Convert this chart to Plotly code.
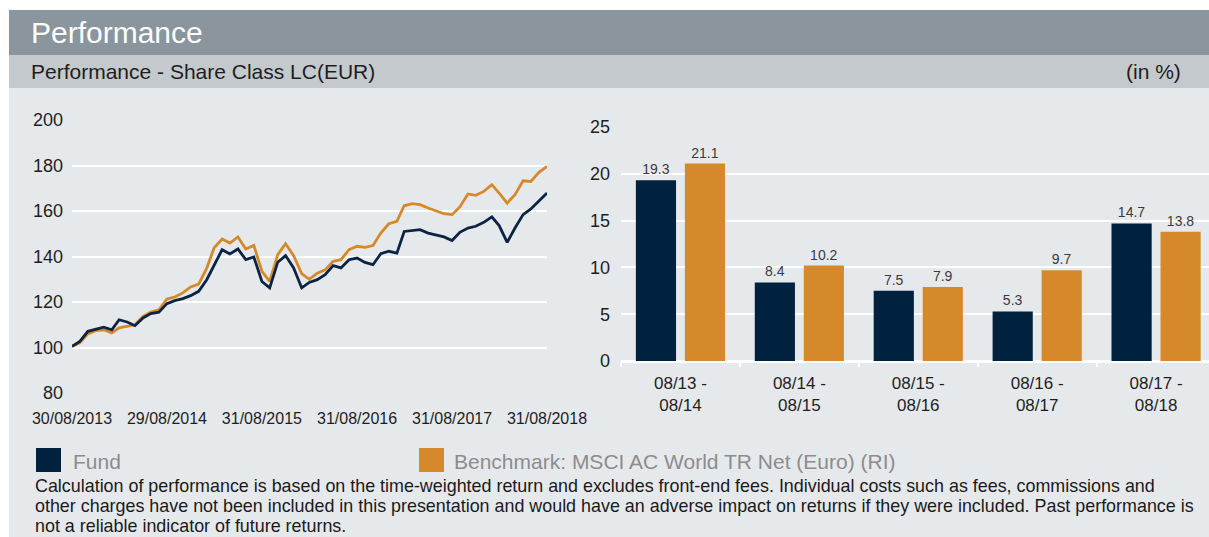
import pandas as pd
import plotly.graph_objects as go

W, H = 1209, 537

# ---------------- data ----------------
dates = pd.date_range("2013-08-31", periods=61, freq="ME")
fund_idx = [100.5, 102.7, 107.1, 108.1, 108.9, 107.8, 112.2, 111.2, 109.6, 113.0,
            114.9, 115.5, 119.3, 120.6, 121.5, 122.8, 124.7, 129.8, 136.4, 143.0,
            141.1, 143.3, 138.6, 139.8, 129.0, 126.2, 137.5, 140.4, 135.0, 126.2,
            128.6, 129.8, 132.0, 136.0, 135.0, 138.6, 139.3, 137.4, 136.4, 141.2,
            142.3, 141.5, 151.0, 151.3, 151.8, 150.3, 149.6, 148.6, 147.0, 150.6,
            152.5, 153.3, 155.0, 157.4, 153.6, 146.2, 152.5, 158.4, 160.9, 164.5,
            167.9]
bench_idx = [100.5, 102.0, 106.0, 107.4, 107.8, 106.4, 108.6, 109.3, 110.0, 113.7,
             115.6, 116.6, 121.3, 122.2, 124.0, 126.6, 127.9, 134.9, 143.7, 147.7,
             145.9, 148.6, 143.3, 144.9, 133.5, 129.1, 140.8, 145.6, 140.4, 132.5,
             130.0, 132.7, 134.1, 137.9, 138.6, 143.0, 144.5, 144.0, 144.8, 150.3,
             154.4, 155.5, 162.3, 163.2, 162.8, 161.3, 159.9, 158.8, 158.4, 161.8,
             167.5, 166.9, 168.6, 171.6, 167.9, 163.5, 167.2, 173.3, 173.0, 177.0,
             179.6]
line_tick_dates = ["2013-08-31", "2014-08-31", "2015-08-31", "2016-08-31", "2017-08-31", "2018-08-31"]
line_tick_text = ["30/08/2013", "29/08/2014", "31/08/2015", "31/08/2016", "31/08/2017", "31/08/2018"]
line_yticks = [80, 100, 120, 140, 160, 180, 200]

periods = ["08/13 -<br>08/14", "08/14 -<br>08/15", "08/15 -<br>08/16", "08/16 -<br>08/17", "08/17 -<br>08/18"]
fund_ret = [19.3, 8.4, 7.5, 5.3, 14.7]
bench_ret = [21.1, 10.2, 7.9, 9.7, 13.8]
bar_yticks = [0, 5, 10, 15, 20, 25]

header_title = "Performance"
sub_title = "Performance - Share Class LC(EUR)"
unit_label = "(in %)"
legend_fund = "Fund"
legend_bench = "Benchmark: MSCI AC World TR Net (Euro) (RI)"
footnote = [
    "Calculation of performance is based on the time-weighted return and excludes front-end fees. Individual costs such as fees, commissions and",
    "other charges have not been included in this presentation and would have an adverse impact on returns if they were included. Past performance is",
    "not a reliable indicator of future returns.",
]

# ---------------- styles ----------------
NAVY = "#0b2444"
BAR_NAVY = "#00223f"
ORANGE = "#d5892a"
BODY = "#e6e9ec"
HEAD = "#8a959e"
SUB = "#c4c9ce"
FONT = "Liberation Sans, Arial, sans-serif"

def px(x):
    return x / W

def py(y):
    return 1 - y / H

fig = go.Figure()

fig.add_trace(go.Scatter(x=dates, y=bench_idx, mode="lines", line=dict(color=ORANGE, width=2.8),
                         xaxis="x", yaxis="y", showlegend=False, hoverinfo="skip"))
fig.add_trace(go.Scatter(x=dates, y=fund_idx, mode="lines", line=dict(color=NAVY, width=2.8),
                         xaxis="x", yaxis="y", showlegend=False, hoverinfo="skip"))

fig.add_trace(go.Bar(x=periods, y=fund_ret, marker=dict(color=BAR_NAVY, line=dict(width=0)),
                     text=[f"{v:.1f}" for v in fund_ret], textposition="outside",
                     textfont=dict(size=14, color="#3a3a3a", family=FONT), cliponaxis=False,
                     xaxis="x2", yaxis="y2", showlegend=False, hoverinfo="skip"))
fig.add_trace(go.Bar(x=periods, y=bench_ret, marker=dict(color=ORANGE, line=dict(width=0)),
                     text=[f"{v:.1f}" for v in bench_ret], textposition="outside",
                     textfont=dict(size=14, color="#3a3a3a", family=FONT), cliponaxis=False,
                     xaxis="x2", yaxis="y2", showlegend=False, hoverinfo="skip"))

shapes = [
    dict(type="rect", xref="paper", yref="paper", x0=px(9), x1=1, y0=py(537), y1=py(88),
         fillcolor=BODY, line=dict(width=0), layer="below"),
    dict(type="rect", xref="paper", yref="paper", x0=px(9), x1=1, y0=py(55), y1=py(10),
         fillcolor=HEAD, line=dict(width=0), layer="below"),
    dict(type="rect", xref="paper", yref="paper", x0=px(9), x1=1, y0=py(88), y1=py(55),
         fillcolor=SUB, line=dict(width=0), layer="below"),
    dict(type="rect", xref="paper", yref="paper", x0=px(36), x1=px(61), y0=py(472), y1=py(448),
         fillcolor=BAR_NAVY, line=dict(width=0)),
    dict(type="rect", xref="paper", yref="paper", x0=px(419), x1=px(444), y0=py(472), y1=py(448),
         fillcolor=ORANGE, line=dict(width=0)),
]

annotations = [
    dict(text=header_title, x=px(29), y=py(33), xref="paper", yref="paper", xanchor="left",
         yanchor="middle", showarrow=False, font=dict(size=30, color="white", family=FONT)),
    dict(text=sub_title, x=px(29), y=py(72), xref="paper", yref="paper", xanchor="left",
         yanchor="middle", showarrow=False, font=dict(size=21, color="#1e1e1e", family=FONT)),
    dict(text=unit_label, x=px(1183), y=py(72), xref="paper", yref="paper", xanchor="right",
         yanchor="middle", showarrow=False, font=dict(size=21, color="#1e1e1e", family=FONT)),
    dict(text=legend_fund, x=px(71), y=py(461), xref="paper", yref="paper", xanchor="left",
         yanchor="middle", showarrow=False, font=dict(size=21, color="#8c8c8c", family=FONT)),
    dict(text=legend_bench, x=px(452), y=py(461), xref="paper", yref="paper", xanchor="left",
         yanchor="middle", showarrow=False, font=dict(size=21, color="#8c8c8c", family=FONT)),
]
for i, line in enumerate(footnote):
    annotations.append(dict(text=line, x=px(33), y=py(486 + 20 * i), xref="paper", yref="paper",
                            xanchor="left", yanchor="middle", showarrow=False, align="left",
                            font=dict(size=17.9, color="#1a1a1a", family=FONT)))

fig.update_layout(
    template="none",
    width=W, height=H, autosize=False,
    margin=dict(l=0, r=0, t=0, b=0, pad=0, autoexpand=False),
    paper_bgcolor="white",
    plot_bgcolor=BODY,
    font=dict(family=FONT, color="#1e1e1e"),
    barmode="group", bargap=0.176, bargroupgap=0.18,
    shapes=shapes, annotations=annotations,
    xaxis=dict(domain=[px(72), px(547)], type="date", automargin=False,
               range=[dates[0], dates[-1]],
               tickvals=line_tick_dates, ticktext=line_tick_text,
               showgrid=False, zeroline=False, showline=False, ticks="",
               tickfont=dict(size=16, color="#1e1e1e"), ticklabelstandoff=14),
    yaxis=dict(domain=[py(393), py(120)], range=[80, 200], tickvals=line_yticks, automargin=False,
               showgrid=True, gridcolor="white", gridwidth=2, zeroline=False, showline=False,
               ticks="", tickfont=dict(size=18, color="#1e1e1e"), ticklabelstandoff=8),
    xaxis2=dict(domain=[px(621), 1], anchor="y2", range=[-0.5, 4.445], automargin=False,
                showgrid=False, zeroline=False, showline=False,
                ticks="outside", tickson="boundaries", ticklen=5, tickcolor="white", tickwidth=2,
                tickfont=dict(size=17, color="#1e1e1e"), ticklabelstandoff=10),
    yaxis2=dict(domain=[py(361), py(127)], anchor="x2", range=[0, 25], tickvals=bar_yticks,
                automargin=False,
                showgrid=True, gridcolor="white", gridwidth=2, zeroline=True, zerolinecolor="white",
                zerolinewidth=3, showline=False, ticks="", tickfont=dict(size=18, color="#1e1e1e"),
                ticklabelstandoff=10),
)

fig.write_html("out.html")
